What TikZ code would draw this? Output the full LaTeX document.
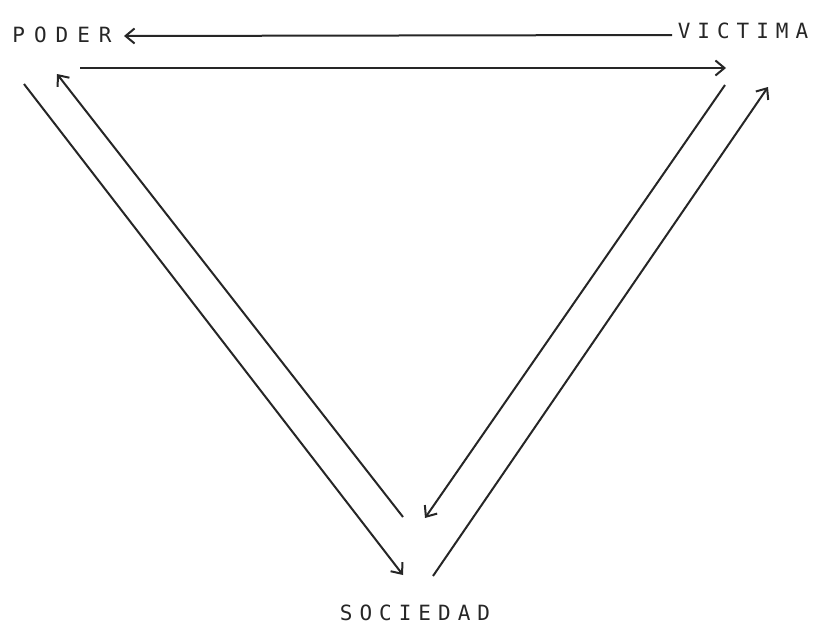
\documentclass[tikz,border=0pt]{standalone}
\usepackage{fontspec}
\newfontfamily\typew{DejaVu Sans Mono}
\usetikzlibrary{arrows.meta}
\newcommand{\ls}{\hskip 7pt}
\newcommand{\lw}{\hskip 9pt}
\tikzset{
  lbl/.style={font=\typew\fontsize{21}{21}\selectfont, inner sep=0pt, text=black!85},
  conn/.style={line width=2pt, draw=black!85, -{Straight Barb[length=9pt,width=15pt,line width=2pt]}}
}
\begin{document}
\begin{tikzpicture}[x=1pt,y=-1pt]
\useasboundingbox (0,0) rectangle (830,632);
\node[lbl] (poder) at (62,35) {P\lw O\lw D\lw E\lw R};
\node[lbl] (victima) at (743,31) {V\ls I\ls C\ls T\ls I\ls M\ls A};
\node[lbl] (sociedad) at (415,613) {S\ls O\ls C\ls I\ls E\ls D\ls A\ls D};
% endpoints
\coordinate (a1s) at (672,35);
\coordinate (a1e) at (124,36);
\coordinate (a2s) at (80,68);
\coordinate (a2e) at (726,68);
\coordinate (l1s) at (24,84);
\coordinate (l1e) at (403,575);
\coordinate (l2s) at (403,517);
\coordinate (l2e) at (57,74);
\coordinate (r1s) at (725,85);
\coordinate (r1e) at (425,518);
\coordinate (r2s) at (433,576);
\coordinate (r2e) at (768,87);
\draw[conn] (a1s) -- (a1e);
\draw[conn] (a2s) -- (a2e);
\draw[conn] (l1s) -- (l1e);
\draw[conn] (l2s) -- (l2e);
\draw[conn] (r1s) -- (r1e);
\draw[conn] (r2s) -- (r2e);
\end{tikzpicture}
\end{document}
